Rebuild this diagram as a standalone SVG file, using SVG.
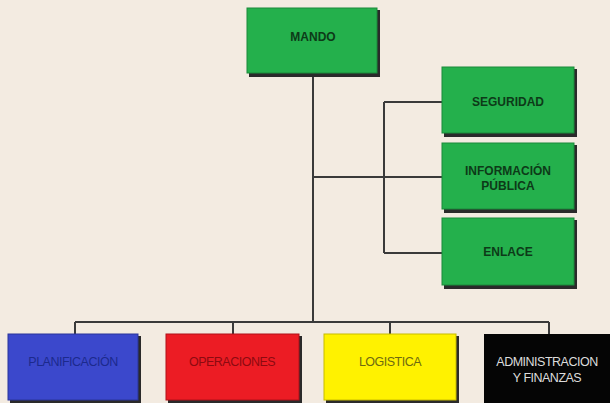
<svg xmlns="http://www.w3.org/2000/svg" width="610" height="403" viewBox="0 0 610 403">
<style>
.sh{fill:#2a2a2a}
.g{fill:#24b04c;stroke:#1a8a3a;stroke-width:1}
.tg{font-family:"Liberation Sans",Arial,sans-serif;font-weight:bold;font-size:12px;fill:#0d3a18;text-anchor:middle}
.tb{font-family:"Liberation Sans",Arial,sans-serif;font-size:12.5px;text-anchor:middle;letter-spacing:-0.5px}
.ln{stroke:#3a3a3a;stroke-width:2;fill:none}
</style>
<rect width="610" height="403" fill="#f3ebe1"/>
<g id="connectors">
<path class="ln" d="M313 75 V322"/>
<path class="ln" d="M313 177 H442"/>
<path class="ln" d="M384 102 V253"/>
<path class="ln" d="M384 102 H442 M384 253 H442"/>
<path class="ln" d="M75 322 H549"/>
<path class="ln" d="M75 322 V334 M233 322 V334 M390 322 V334 M549 322 V334"/>
</g>
<g id="mando">
<rect class="sh" x="249" y="10" width="131" height="67"/>
<rect class="g" x="247" y="8" width="130" height="65"/>
<text class="tg" x="313" y="41">MANDO</text>
</g>
<g id="seguridad">
<rect class="sh" x="444" y="69" width="133" height="68"/>
<rect class="g" x="442" y="67" width="132" height="66"/>
<text class="tg" x="508" y="106">SEGURIDAD</text>
</g>
<g id="informacion">
<rect class="sh" x="444" y="145" width="133" height="68"/>
<rect class="g" x="442" y="143" width="132" height="66"/>
<text class="tg" x="508" y="175">INFORMACIÓN</text>
<text class="tg" x="508" y="190">PÚBLICA</text>
</g>
<g id="enlace">
<rect class="sh" x="444" y="220" width="133" height="69"/>
<rect class="g" x="442" y="218" width="132" height="67"/>
<text class="tg" x="508" y="256">ENLACE</text>
</g>
<g id="planificacion">
<rect class="sh" x="10" y="336" width="131" height="68"/>
<rect x="8" y="334" width="130" height="66" fill="#3b48cc" stroke="#2a359a"/>
<text class="tb" x="73" y="366" fill="#1c2a8c">PLANIFICACIÓN</text>
</g>
<g id="operaciones">
<rect class="sh" x="168" y="336" width="134" height="68"/>
<rect x="166" y="334" width="133" height="66" fill="#ec1c24" stroke="#b01018"/>
<text class="tb" x="232" y="366" fill="#8c0a10">OPERACIONES</text>
</g>
<g id="logistica">
<rect class="sh" x="326" y="336" width="133" height="68"/>
<rect x="324" y="334" width="132" height="66" fill="#fff200" stroke="#c8bc00"/>
<text class="tb" x="390" y="366" fill="#6e6a10">LOGISTICA</text>
</g>
<g id="administracion">
<rect x="484" y="334" width="126" height="69" fill="#050505"/>
<text class="tb" x="547" y="366" fill="#dcdcdc">ADMINISTRACION</text>
<text class="tb" x="547" y="382" fill="#dcdcdc">Y FINANZAS</text>
</g>
</svg>
